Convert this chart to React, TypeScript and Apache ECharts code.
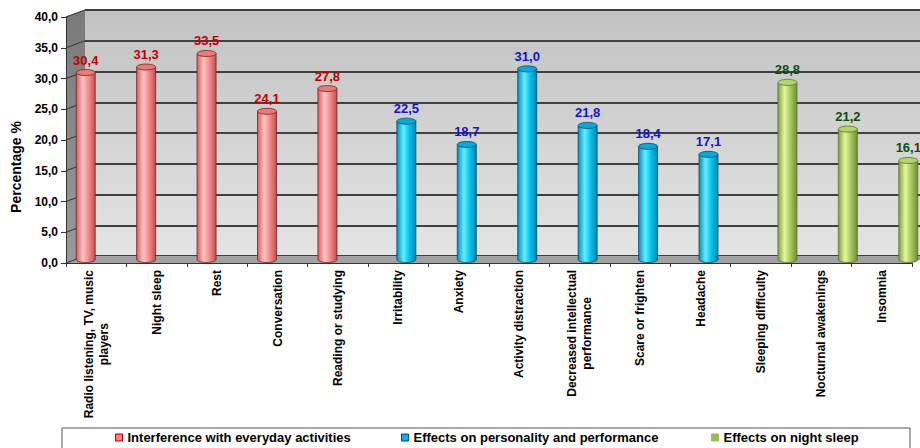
import React, { useEffect, useRef } from 'react';
import * as echarts from 'echarts';

const categories = [
  'Radio listening, TV, music\nplayers',
  'Night sleep',
  'Rest',
  'Conversation',
  'Reading or studying',
  'Irritability',
  'Anxiety',
  'Activity distraction',
  'Decreased intellectual\nperformance',
  'Scare or frighten',
  'Headache',
  'Sleeping difficulty',
  'Nocturnal awakenings',
  'Insomnia',
];
const seriesNames = [
  'Interference with everyday activities',
  'Effects on personality and performance',
  'Effects on night sleep',
];
const interferenceValues = [30.4, 31.3, 33.5, 24.1, 27.8];
const personalityValues = [22.5, 18.7, 31.0, 21.8, 18.4, 17.1];
const nightSleepValues = [28.8, 21.2, 16.1];
const yTicks = [0, 5, 10, 15, 20, 25, 30, 35, 40];

const FONT = '"Liberation Sans", Arial, Helvetica, sans-serif';
const DX = 19;
const DY = -7;
const SLOT = 18.5;
const SHIFT = 8;
const BAR_W = 19;

const palettes = [
  {
    stops: [
      { offset: 0, color: '#d85c5c' },
      { offset: 0.35, color: '#ffc4c4' },
      { offset: 0.65, color: '#f28a8a' },
      { offset: 1, color: '#c44e4e' },
    ],
    top: '#ec7a7a',
    line: '#6e2424',
    label: '#c00000',
    legend: '#ff8080',
    legendBorder: '#a00000',
  },
  {
    stops: [
      { offset: 0, color: '#0090c0' },
      { offset: 0.35, color: '#66eeff' },
      { offset: 0.65, color: '#00c4ee' },
      { offset: 1, color: '#0084b0' },
    ],
    top: '#0aa8d8',
    line: '#124a5c',
    label: '#1414cc',
    legend: '#00b0f0',
    legendBorder: '#00408a',
  },
  {
    stops: [
      { offset: 0, color: '#7f9e40' },
      { offset: 0.35, color: '#e6f79c' },
      { offset: 0.65, color: '#a8c85e' },
      { offset: 1, color: '#6f8e34' },
    ],
    top: '#b4d46e',
    line: '#5a7030',
    label: '#0d4d0d',
    legend: '#9bbb59',
    legendBorder: '#9bbb59',
  },
];

const groups = [
  { start: 0, values: interferenceValues },
  { start: 5, values: personalityValues },
  { start: 11, values: nightSleepValues },
];

const fmt = (v: number) => v.toFixed(1).replace('.', ',');

function makeBarRender(slot: number, pal: any) {
  return (_params: any, api: any) => {
    const idx = api.value(0);
    const val = api.value(1);
    const top = api.coord([idx, val]);
    const base = api.coord([idx, 0]);
    const cx = top[0] + slot * SLOT + SHIFT;
    const ty = top[1] + DY / 2;
    const by = base[1] + DY / 2;
    const rx = BAR_W / 2;
    const ry = 3;
    const grad = new echarts.graphic.LinearGradient(0, 0, 1, 0, pal.stops);
    return {
      type: 'group',
      children: [
        { type: 'ellipse', shape: { cx, cy: by, rx, ry }, style: { fill: grad, stroke: pal.line, lineWidth: 0.8 } },
        { type: 'rect', shape: { x: cx - rx, y: ty, width: BAR_W, height: by - ty }, style: { fill: grad } },
        { type: 'line', shape: { x1: cx - rx, y1: ty, x2: cx - rx, y2: by }, style: { stroke: pal.line, lineWidth: 0.8 } },
        { type: 'line', shape: { x1: cx + rx, y1: ty, x2: cx + rx, y2: by }, style: { stroke: pal.line, lineWidth: 0.8 } },
        { type: 'ellipse', shape: { cx, cy: ty, rx, ry }, style: { fill: pal.top, stroke: pal.line, lineWidth: 0.8 } },
        {
          type: 'text',
          x: cx,
          y: ty - 6,
          style: {
            text: fmt(val),
            fill: pal.label,
            font: `bold 13px ${FONT}`,
            align: 'center',
            verticalAlign: 'bottom',
          },
        },
      ],
    };
  };
}

function wallsRender(_params: any, api: any) {
  const band = api.size([1, 0])[0];
  const bl = api.coord([0, 0]);
  const x0 = bl[0] - band / 2;
  const y0 = bl[1];
  const tr = api.coord([categories.length - 1, yTicks[yTicks.length - 1]]);
  const x1 = tr[0] + band / 2;
  const yTop = tr[1];
  const children: any[] = [
    {
      type: 'polygon',
      shape: { points: [[x0, yTop], [x0 + DX, yTop + DY], [x0 + DX, y0 + DY], [x0, y0]] },
      style: {
        fill: new echarts.graphic.LinearGradient(0, 0, 0, 1, [
          { offset: 0, color: '#7a7a7a' },
          { offset: 1, color: '#9a9a9a' },
        ]),
      },
    },
    {
      type: 'polygon',
      shape: { points: [[x0, y0], [x0 + DX, y0 + DY], [x1 + DX, y0 + DY], [x1, y0]] },
      style: { fill: '#a2a2a2' },
    },
  ];
  yTicks.forEach((t) => {
    const y = api.coord([0, t])[1];
    children.push({
      type: 'line',
      shape: { x1: x0, y1: y, x2: x0 + DX, y2: y + DY },
      style: { stroke: '#3a3a3a', lineWidth: 1.2 },
    });
  });
  return { type: 'group', children };
}

export default function App() {
  const ref = useRef<HTMLDivElement>(null);
  useEffect(() => {
    if (!ref.current) return;
    const chart = echarts.init(ref.current, null, { renderer: 'svg' });
    const barSeries = groups.map((g, i) => ({
      type: 'custom',
      name: seriesNames[i],
      xAxisIndex: 0,
      yAxisIndex: 0,
      z: 5,
      itemStyle: { color: palettes[i].legend },
      renderItem: makeBarRender(i - 1, palettes[i]),
      data: g.values.map((v, k) => [g.start + k, v]),
    }));
    const legendLefts = [115, 401, 711];
    chart.setOption({
      animation: false,
      backgroundColor: '#ffffff',
      grid: [
        { left: 66, top: 17, width: 846, height: 246 },
        {
          left: 85,
          top: 10,
          width: 846,
          height: 246,
          show: true,
          borderWidth: 0,
          backgroundColor: new echarts.graphic.LinearGradient(0, 0, 0, 1, [
            { offset: 0, color: '#c2c2c2' },
            { offset: 1, color: '#e4e4e4' },
          ]),
        },
      ],
      xAxis: [
        {
          gridIndex: 0,
          type: 'category',
          data: categories,
          z: 10,
          axisLine: { show: true, lineStyle: { color: '#333333', width: 1 } },
          axisTick: { show: true, length: 4, lineStyle: { color: '#333333' } },
          axisLabel: {
            rotate: 90,
            margin: 7,
            interval: 0,
            formatter: (v: string) => v.split('\n').map((s) => `{a|${s}}`).join('\n'),
            rich: {
              a: {
                align: 'center',
                fontWeight: 'bold',
                fontSize: 12,
                fontFamily: FONT,
                color: '#000000',
                lineHeight: 15,
              },
            },
          },
        },
        { gridIndex: 1, type: 'category', data: categories, show: false },
      ],
      yAxis: [
        {
          gridIndex: 0,
          type: 'value',
          min: 0,
          max: 40,
          interval: 5,
          z: 10,
          axisLine: { show: true, lineStyle: { color: '#333333', width: 1 } },
          axisTick: { show: true, length: 5, lineStyle: { color: '#333333' } },
          axisLabel: {
            margin: 8,
            formatter: (v: number) => fmt(v),
            fontWeight: 'bold',
            fontSize: 12,
            fontFamily: FONT,
            color: '#000000',
          },
          splitLine: { show: false },
        },
        {
          gridIndex: 1,
          type: 'value',
          min: 0,
          max: 40,
          interval: 5,
          axisLine: { show: false },
          axisTick: { show: false },
          axisLabel: { show: false },
          splitLine: { show: true, lineStyle: { color: '#404040', width: 2 } },
        },
      ],
      legend: seriesNames.map((n, i) => ({
        data: [
          {
            name: n,
            itemStyle: { color: palettes[i].legend, borderColor: palettes[i].legendBorder, borderWidth: 1 },
          },
        ],
        left: legendLefts[i],
        top: 431,
        icon: 'rect',
        itemWidth: 7,
        itemHeight: 7,
        padding: 0,
        selectedMode: false,
        textStyle: { fontWeight: 'bold', fontSize: 13, fontFamily: FONT, color: '#000000' },
      })),
      graphic: [
        {
          type: 'rect',
          shape: { x: 62, y: 428, width: 848, height: 30 },
          style: { fill: 'none', stroke: '#555555', lineWidth: 1 },
          z: 1,
        },
        {
          type: 'text',
          x: 16,
          y: 167,
          rotation: Math.PI / 2,
          style: {
            text: 'Percentage %',
            font: `bold 14px ${FONT}`,
            fill: '#000000',
            align: 'center',
            verticalAlign: 'middle',
          },
        },
      ],
      series: [
        {
          type: 'custom',
          name: 'walls',
          xAxisIndex: 0,
          yAxisIndex: 0,
          z: 3,
          silent: true,
          renderItem: wallsRender,
          data: [[0, 0]],
        },
        ...barSeries,
      ],
    });
    return () => chart.dispose();
  }, []);
  return (
    <div
      ref={ref}
      style={{ position: 'fixed', left: 0, top: 0, width: 920, height: 448, overflow: 'hidden' }}
    />
  );
}
